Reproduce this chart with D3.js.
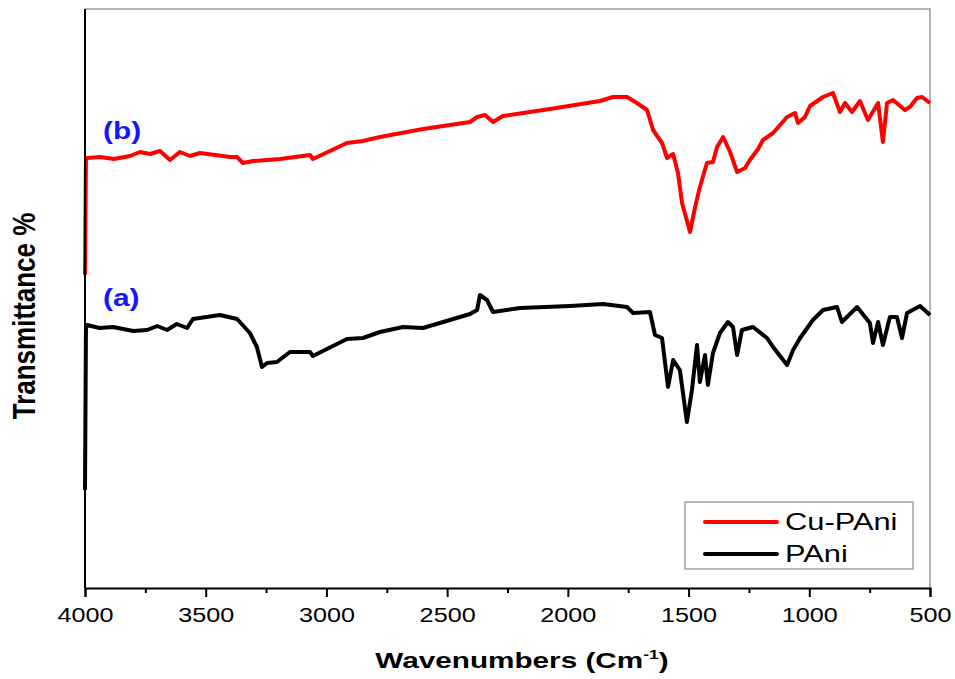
<!DOCTYPE html>
<html>
<head>
<meta charset="utf-8">
<script src="https://cdn.jsdelivr.net/npm/d3@7"></script>
<style>
  body { margin: 0; background: #fff; }
  text { font-family: Arial, "Liberation Sans", sans-serif; }
</style>
</head>
<body>
<div id="chart"></div>
<script>
var width  = 955;
var height = 679;
var margin = {top: 9, right: 25, bottom: 91, left: 85};

// Cu-PAni (b)
var wnCu = [4000, 3996, 3992, 3938, 3880, 3814, 3772, 3731, 3689, 3648, 3607, 3565, 3524, 3460, 3399, 3370, 3346,
            3304, 3192, 3068, 3056, 2915, 2849, 2778, 2600, 2405, 2376, 2343, 2310, 2269, 2074, 1867, 1813,
            1755, 1714, 1672, 1647, 1610, 1589, 1564, 1544, 1527, 1494, 1473, 1453, 1424, 1399, 1382, 1357,
            1328, 1299, 1266, 1246, 1212, 1192, 1150, 1092, 1059, 1047, 1018, 997, 943, 902, 873, 852, 823,
            790, 757, 715, 695, 678, 653, 604, 583, 554, 533, 500];
var tCu  = [31.3, 43.0, 43.0, 43.1, 42.9, 43.2, 43.6, 43.4, 43.7, 42.8, 43.6, 43.2, 43.5, 43.3, 43.1, 43.1, 42.5,
            42.7, 42.9, 43.3, 42.9, 44.5, 44.7, 45.1, 45.9, 46.6, 47.1, 47.3, 46.6, 47.2, 47.9, 48.7, 49.1,
            49.1, 48.5, 47.8, 45.8, 44.5, 43.0, 43.4, 41.5, 38.5, 35.6, 38.1, 40.1, 42.5, 42.6, 44.1, 45.1,
            43.6, 41.6, 42.0, 42.8, 43.9, 44.8, 45.5, 47.1, 47.5, 46.5, 47.1, 48.2, 49.1, 49.5, 47.6, 48.5, 47.6,
            48.7, 46.8, 48.5, 44.6, 48.5, 48.8, 47.8, 48.1, 49.0, 49.1, 48.5];

// PAni (a)
var wnPAni = [4000, 3996, 3992, 3940, 3884, 3800, 3743, 3700, 3660, 3620, 3577, 3553, 3441, 3370, 3317, 3288,
              3267, 3246, 3205, 3151, 3068, 3056, 2915, 2849, 2778, 2683, 2600, 2405, 2376, 2364, 2335, 2310,
              2198, 1991, 1854, 1755, 1730, 1660, 1639, 1610, 1585, 1564, 1536, 1507, 1486, 1465, 1453, 1432,
              1420, 1399, 1370, 1337, 1316, 1299, 1279, 1233, 1175, 1150, 1092, 1067, 1038, 985, 943, 885,
              865, 802, 749, 736, 715, 695, 666, 637, 616, 595, 541, 500];
var tPAni  = [9.8, 26.3, 26.3, 26.0, 26.1, 25.7, 25.8, 26.2, 25.8, 26.4, 26.0, 26.9, 27.3, 26.9, 25.5, 24.1,
              22.1, 22.5, 22.6, 23.6, 23.6, 23.2, 24.9, 25.0, 25.6, 26.1, 26.0, 27.4, 27.8, 29.3, 28.8, 27.6,
              28.0, 28.2, 28.4, 28.1, 27.5, 27.6, 25.3, 25.0, 20.1, 22.8, 21.8, 16.6, 19.8, 24.3, 20.6, 23.3,
              20.3, 23.5, 25.5, 26.6, 26.1, 23.3, 25.8, 26.1, 25.0, 24.1, 22.3, 23.8, 25.0, 26.8, 27.8, 28.1,
              26.6, 28.1, 26.5, 24.5, 26.6, 24.3, 27.1, 27.1, 25.0, 27.5, 28.2, 27.3];

var seriesNames  = ["Cu-PAni", "PAni"];
var seriesColors = ["#ff0000", "#000000"];
var seriesTags   = ["(b)", "(a)"];
var xTicks = [4000, 3500, 3000, 2500, 2000, 1500, 1000, 500];

var x = d3.scaleLinear()
    .domain([4000, 500])
    .range([margin.left, width - margin.right]);

var y = d3.scaleLinear()
    .domain([0, 57.9])
    .range([height - margin.bottom, margin.top]);

var svg = d3.select("#chart")
    .append("svg")
    .attr("width", width)
    .attr("height", height);

// frame (top / right)
svg.append("path")
    .attr("d", "M" + margin.left + "," + margin.top + "H" + (width - margin.right) + "V" + (height - margin.bottom))
    .attr("fill", "none")
    .attr("stroke", "#9a9a9a")
    .attr("stroke-width", 1.5);

var line = d3.line()
    .x(function(d) { return x(d[0]); })
    .y(function(d) { return y(d[1]); });

var series = [
    d3.zip(wnCu, tCu),
    d3.zip(wnPAni, tPAni)
];

svg.selectAll(".spec")
    .data(series)
    .enter().append("path")
    .attr("class", "spec")
    .attr("d", line)
    .attr("fill", "none")
    .attr("stroke", function(d, i) { return seriesColors[i]; })
    .attr("stroke-width", 4)
    .attr("stroke-linejoin", "round");

// x axis
var xAxis = d3.axisBottom(x)
    .tickValues(d3.range(4000, 499, -250))
    .tickSize(9)
    .tickFormat(function(d) { return xTicks.indexOf(d) >= 0 ? d : ""; });

var gx = svg.append("g")
    .attr("transform", "translate(0," + (height - margin.bottom) + ")")
    .call(xAxis);

gx.select(".domain").attr("stroke-width", 2).attr("stroke", "#000");
gx.selectAll(".tick line")
    .attr("stroke-width", 2)
    .attr("y2", function(d) { return xTicks.indexOf(d) >= 0 ? 9 : 5; });
gx.selectAll(".tick text")
    .attr("y", 34)
    .attr("dy", null)
    .attr("transform", "scale(1.2,1)")
    .style("font-size", "21px")
    .attr("fill", "#000");

// y axis (plain line)
svg.append("line")
    .attr("x1", margin.left).attr("x2", margin.left)
    .attr("y1", margin.top).attr("y2", height - margin.bottom)
    .attr("stroke", "#000")
    .attr("stroke-width", 2);

// axis titles
var xt = svg.append("text")
    .attr("transform", "translate(522,668) scale(1.35,1)")
    .attr("text-anchor", "middle")
    .style("font-size", "22px")
    .style("font-weight", "bold");
xt.append("tspan").text("Wavenumbers (Cm");
xt.append("tspan").attr("dy", -9).style("font-size", "13px").text("-1");
xt.append("tspan").attr("dy", 9).text(")");

svg.append("text")
    .attr("transform", "translate(35,316) scale(1.2,1) rotate(-90)")
    .attr("text-anchor", "middle")
    .style("font-size", "26px")
    .style("font-weight", "bold")
    .text("Transmittance %");

// curve tags
svg.selectAll(".tag")
    .data(seriesTags)
    .enter().append("text")
    .attr("class", "tag")
    .attr("transform", function(d, i) { return "translate(103," + (i == 0 ? 139 : 306) + ") scale(1.3,1)"; })
    .style("font-size", "23px")
    .style("font-weight", "bold")
    .attr("fill", "#1515ff")
    .text(function(d) { return d; });

// legend
var legend = svg.append("g").attr("transform", "translate(685,502)");
legend.append("rect")
    .attr("width", 228).attr("height", 67)
    .attr("fill", "#fff")
    .attr("stroke", "#777")
    .attr("stroke-width", 1);

var item = legend.selectAll(".item")
    .data(seriesNames)
    .enter().append("g")
    .attr("class", "item")
    .attr("transform", function(d, i) { return "translate(0," + (20 + i * 32) + ")"; });

item.append("line")
    .attr("x1", 20).attr("x2", 92)
    .attr("stroke", function(d, i) { return seriesColors[i]; })
    .attr("stroke-width", 4)
    .attr("stroke-linecap", "round");

item.append("text")
    .attr("transform", "translate(100,8) scale(1.34,1)")
    .style("font-size", "23px")
    .text(function(d) { return d; });
</script>
</body>
</html>
